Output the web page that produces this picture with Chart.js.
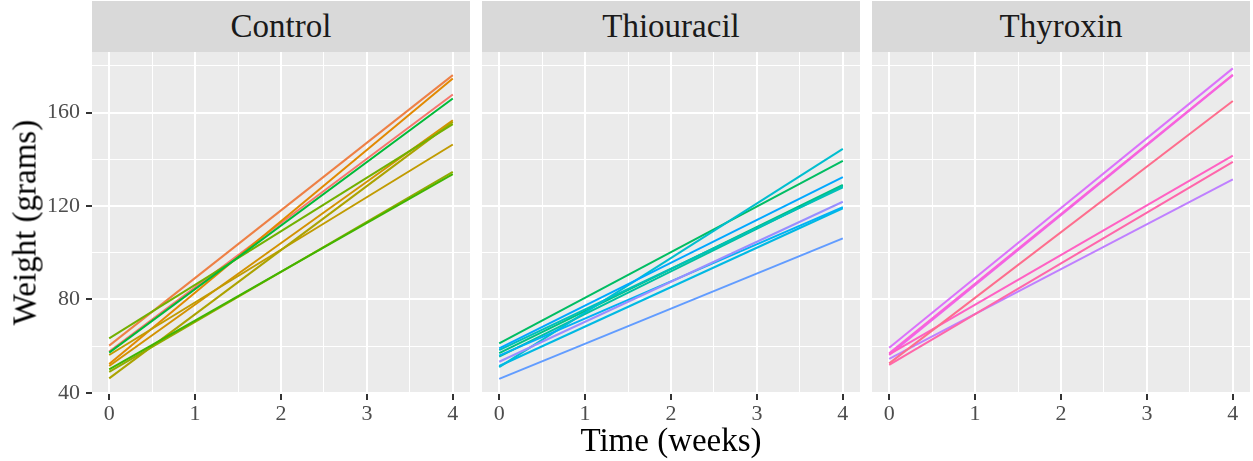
<!DOCTYPE html>
<html>
<head>
<meta charset="utf-8">
<script src="https://cdn.jsdelivr.net/npm/chart.js@4.4.1/dist/chart.umd.min.js"></script>
<style>
  body { margin: 0; background: #fff; width: 1253px; height: 461px; position: relative; overflow: hidden;
         font-family: "Liberation Serif", "DejaVu Serif", serif; }
  canvas { position: absolute; top: 0; }
  .strip { position: absolute; top: 1px; height: 51px; background: #d9d9d9; color: #1a1a1a;
           font-size: 33px; line-height: 51px; text-align: center; }
  .title { position: absolute; font-size: 33px; line-height: 33px; color: #000; white-space: nowrap; text-align: center; }
</style>
</head>
<body>
<div class="strip" style="left:92px;width:378px">Control</div>
<div class="strip" style="left:482px;width:378px">Thiouracil</div>
<div class="strip" style="left:872px;width:378px">Thyroxin</div>
<canvas id="pControl" width="470" height="461" style="left:0"></canvas>
<canvas id="pThiouracil" width="378" height="461" style="left:482px"></canvas>
<canvas id="pThyroxin" width="378" height="461" style="left:872px"></canvas>
<div class="title" style="left:92px;width:1158px;top:424px">Time (weeks)</div>
<div class="title" style="left:-146px;width:342px;top:206px;transform:rotate(-90deg)">Weight (grams)</div>

<script>
// fitted weight per rat at week 0 and week 4 (one straight line per rat)
var weeks = [0, 4];
var controlStart = [57.7, 60.2, 52.3, 51.5, 56.2, 46.2, 49.0, 63.3, 50.0, 57.2];
var controlEnd   = [167.7, 176.0, 174.6, 156.7, 146.3, 156.0, 134.6, 155.0, 133.6, 166.0];
var thiouracilStart = [61.2, 57.0, 55.5, 58.3, 51.0, 51.5, 55.9, 59.0, 46.0, 53.3];
var thiouracilEnd   = [139.3, 129.0, 128.5, 128.0, 144.4, 119.0, 119.5, 132.3, 106.1, 121.8];
var thyroxinStart = [54.5, 59.3, 56.2, 56.9, 56.5, 52.0, 52.6];
var thyroxinEnd   = [131.4, 178.9, 176.0, 176.2, 141.5, 138.9, 164.9];

var xTicks = [0, 1, 2, 3, 4];
var xGrid = [0, 0.5, 1, 1.5, 2, 2.5, 3, 3.5, 4];
var yTicks = [40, 80, 120, 160];
var yGrid = [40, 60, 80, 100, 120, 140, 160, 180];

// ggplot-style hue palette (hcl, c = 100, l = 65), one colour per rat
function hcl(h, c, l) {
  var WY = 100, Wu = 0.1978398, Wv = 0.4683363;
  var hr = h * Math.PI / 180;
  var U = c * Math.cos(hr), V = c * Math.sin(hr);
  var Y = WY * (l > 7.999592 ? Math.pow((l + 16) / 116, 3) : l / 903.3);
  var u = U / (13 * l) + Wu, v = V / (13 * l) + Wv;
  var X = 9 * Y * u / (4 * v);
  var Z = -X / 3 - 5 * Y + 3 * Y / v;
  function gt(t) { return t > 0.00304 ? 1.055 * Math.pow(t, 1 / 2.4) - 0.055 : 12.92 * t; }
  var rgb = [
    gt((3.240479 * X - 1.53715 * Y - 0.498535 * Z) / WY),
    gt((-0.969256 * X + 1.875992 * Y + 0.041556 * Z) / WY),
    gt((0.055648 * X - 0.204043 * Y + 1.057311 * Z) / WY)
  ];
  return '#' + rgb.map(function (t) {
    var n = Math.round(Math.min(1, Math.max(0, t)) * 255);
    return (n < 16 ? '0' : '') + n.toString(16);
  }).join('');
}
var palette = [];
for (var i = 0; i < 27; i++) palette.push(hcl(15 + i * 360 / 27, 100, 65));

Chart.defaults.font.family = '"Liberation Serif", "DejaVu Serif", serif';

var panelBg = {
  id: 'panelBg',
  beforeDraw: function (chart) {
    var a = chart.chartArea, ctx = chart.ctx;
    ctx.save();
    ctx.fillStyle = '#ebebeb';
    ctx.fillRect(a.left, a.top, a.right - a.left, a.bottom - a.top);
    ctx.restore();
  }
};

function isMajor(list, ctx) {
  return ctx.tick && list.indexOf(ctx.tick.value) >= 0;
}

function makePanel(id, starts, ends, colorOffset, showY) {
  var datasets = [];
  for (var i = 0; i < starts.length; i++) {
    datasets.push({
      data: [{ x: weeks[0], y: starts[i] }, { x: weeks[1], y: ends[i] }],
      borderColor: palette[colorOffset + i],
      borderWidth: 2,
      pointRadius: 0,
      tension: 0
    });
  }
  datasets.reverse(); // later rats on top, like ggplot

  new Chart(document.getElementById(id), {
    type: 'line',
    data: { datasets: datasets },
    plugins: [panelBg],
    options: {
      responsive: false,
      animation: false,
      events: [],
      layout: { padding: { top: 52, left: 0, right: 0, bottom: 0 }, autoPadding: false },
      plugins: { legend: { display: false }, tooltip: { enabled: false } },
      scales: {
        x: {
          type: 'linear',
          min: -0.2,
          max: 4.2,
          border: { display: false },
          afterBuildTicks: function (s) { s.ticks = xGrid.map(function (v) { return { value: v }; }); },
          afterFit: function (s) { s.height = 67; },
          grid: {
            color: '#ffffff',
            lineWidth: function (ctx) { return isMajor(xTicks, ctx) ? 2 : 1; },
            tickColor: function (ctx) { return isMajor(xTicks, ctx) ? '#333333' : 'rgba(0,0,0,0)'; },
            tickLength: 6,
            tickWidth: 2
          },
          ticks: {
            autoSkip: false,
            maxRotation: 0,
            padding: 1,
            color: '#4d4d4d',
            font: { size: 22 },
            callback: function (v) { return xTicks.indexOf(v) >= 0 ? String(v) : ''; }
          }
        },
        y: {
          type: 'linear',
          min: 39.5,
          max: 185.9,
          border: { display: false },
          afterBuildTicks: function (s) { s.ticks = yGrid.map(function (v) { return { value: v }; }); },
          afterFit: function (s) { s.width = showY ? 92 : 0; },
          grid: {
            color: '#ffffff',
            lineWidth: function (ctx) { return isMajor(yTicks, ctx) ? 2 : 1; },
            tickColor: function (ctx) { return isMajor(yTicks, ctx) ? '#333333' : 'rgba(0,0,0,0)'; },
            drawTicks: showY,
            tickLength: 6,
            tickWidth: 2
          },
          ticks: {
            display: showY,
            autoSkip: false,
            padding: 6,
            color: '#4d4d4d',
            font: { size: 22 },
            callback: function (v) { return yTicks.indexOf(v) >= 0 ? String(v) : ''; }
          }
        }
      }
    }
  });
}

makePanel('pControl', controlStart, controlEnd, 0, true);
makePanel('pThiouracil', thiouracilStart, thiouracilEnd, 10, false);
makePanel('pThyroxin', thyroxinStart, thyroxinEnd, 20, false);
</script>
</body>
</html>
